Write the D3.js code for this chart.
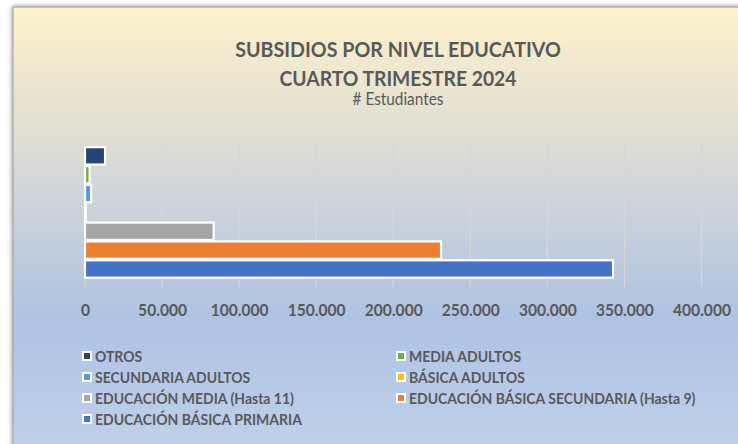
<!DOCTYPE html>
<html><head><meta charset="utf-8">
<script src="https://cdn.jsdelivr.net/npm/d3@7"></script>
<style>body{margin:0;background:#fff}svg{display:block}</style>
</head><body>
<svg id="c" width="738" height="444"></svg>
<script>
const categories = ["OTROS","MEDIA ADULTOS","SECUNDARIA ADULTOS","BÁSICA ADULTOS","EDUCACIÓN MEDIA (Hasta 11)","EDUCACIÓN BÁSICA SECUNDARIA (Hasta 9)","EDUCACIÓN BÁSICA PRIMARIA"];
const values = [13000, 3000, 4000, 500, 83500, 231000, 342600];
const colors = ["#264478","#70AD47","#5B9BD5","#FFC000","#A5A5A5","#ED7D31","#4472C4"];
const xTicks = [0, 50000, 100000, 150000, 200000, 250000, 300000, 350000, 400000];
const titleLines = ["SUBSIDIOS POR NIVEL EDUCATIVO", "CUARTO TRIMESTRE 2024"];
const subtitle = "# Estudiantes";

const svg = d3.select("#c");
const FONT = "Lato, 'Open Sans', sans-serif";
const TXT = "#595959";
const K = 1.1; // horizontal condensing factor

const defs = svg.append("defs");
const grad = defs.append("linearGradient").attr("id","bg").attr("x1",0).attr("y1",0).attr("x2",0).attr("y2",1);
[[0,"#FEF1CB"],[0.3,"#DCDCD5"],[0.66,"#AEC2E3"],[1,"#C4D3EC"]].forEach(([o,c])=>grad.append("stop").attr("offset",o).attr("stop-color",c));
const f = defs.append("filter").attr("id","sh").attr("x","-5%").attr("y","-5%").attr("width","110%").attr("height","110%");
f.append("feDropShadow").attr("dx",0).attr("dy",0).attr("stdDeviation",2.5).attr("flood-color","#000").attr("flood-opacity",0.5);

svg.append("rect").attr("x",13).attr("y",7).attr("width",760).attr("height",470)
  .attr("fill","url(#bg)").attr("stroke","#999").attr("stroke-width",1).attr("filter","url(#sh)");

const x = d3.scaleLinear().domain([0,400000]).range([85, 701.5]);
const y = d3.scaleBand().domain(categories).range([146.4, 278.4]).padding(0);
const gridTop = 143, gridBot = 287;

const fmt = d3.formatLocale({decimal:",", thousands:".", grouping:[3], currency:["$",""]}).format(",");

// gridlines
svg.append("g").selectAll("line").data(xTicks).join("line")
  .attr("x1",d=>x(d)).attr("x2",d=>x(d)).attr("y1",gridTop).attr("y2",gridBot)
  .attr("stroke","#D6D6D6").attr("stroke-width",1.2);

// bars
const bh = y.bandwidth()*0.92;
svg.append("g").selectAll("rect").data(categories).join("rect")
  .attr("x",x(0)).attr("y",d=>y(d)+(y.bandwidth()-bh)/2)
  .attr("width",(d,i)=>x(values[i])-x(0)).attr("height",bh)
  .attr("fill",(d,i)=>colors[i]).attr("stroke","#fff").attr("stroke-width",2.2);

function fitSize(sel, node, target){
  const w = node.getComputedTextLength();
  const fs = parseFloat(d3.select(node).attr("font-size"));
  sel.attr("font-size", fs*target/w);
}
function condense(sel, k){
  sel.each(function(){
    const t = d3.select(this);
    const fs = parseFloat(t.attr("font-size"));
    const xx = parseFloat(t.attr("x") || 0);
    t.attr("font-size", fs*k).attr("x", xx*k).attr("transform", `scale(${1/k},1)`);
  });
}

// axis labels
const axis = d3.axisBottom(x).tickValues(xTicks).tickFormat(d=>fmt(d)).tickSize(0).tickPadding(0);
const ag = svg.append("g").attr("transform","translate(0,304)").call(axis);
ag.select(".domain").remove();
ag.selectAll("text").attr("font-family",FONT).attr("font-weight","bold").attr("fill",TXT).attr("font-size",13).attr("dy","0.71em");
const last = ag.selectAll("text").filter(d=>d===400000).node();
fitSize(ag.selectAll("text"), last, 58);
condense(ag.selectAll("text"), K);

// titles
const t1 = svg.append("text").attr("x",398).attr("y",57).attr("text-anchor","middle")
  .attr("font-family",FONT).attr("font-weight","bold").attr("font-size",17).attr("fill",TXT).text(titleLines[0]);
fitSize(t1, t1.node(), 326); condense(t1, K);
const t2 = svg.append("text").attr("x",398).attr("y",86).attr("text-anchor","middle")
  .attr("font-family",FONT).attr("font-weight","bold").attr("font-size",17).attr("fill",TXT).text(titleLines[1]);
fitSize(t2, t2.node(), 237); condense(t2, K);
const t3 = svg.append("text").attr("x",398).attr("y",105).attr("text-anchor","middle")
  .attr("font-family",FONT).attr("font-size",12).attr("fill",TXT).text(subtitle);
fitSize(t3, t3.node(), 91); condense(t3, K);

// legend
const colX = [87, 401], rowY = [356, 377, 398, 419];
const lg = svg.append("g").selectAll("g").data(categories).join("g")
  .attr("transform",(d,i)=>`translate(${colX[i%2]},${rowY[Math.floor(i/2)]})`);
lg.append("rect").attr("x",-4).attr("y",-4).attr("width",8).attr("height",8)
  .attr("fill",(d,i)=>colors[i]).attr("stroke","#fff").attr("stroke-width",2);
const lt = lg.append("text").attr("x",8).attr("dy","0.36em")
  .attr("font-family",FONT).attr("font-weight","bold").attr("font-size",13).attr("fill",TXT).text(d=>d);
const refNode = lt.filter(d=>d==="EDUCACIÓN BÁSICA PRIMARIA").node();
fitSize(lt, refNode, 207);
condense(lt, K);
</script>
</body></html>
